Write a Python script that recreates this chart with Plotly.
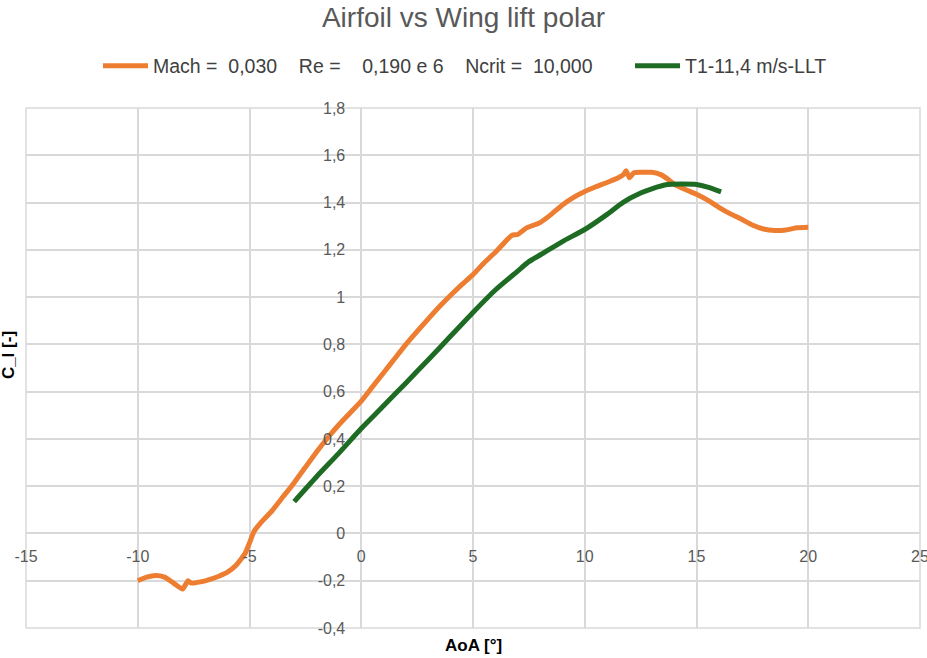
import plotly.graph_objects as go

# Airfoil polar (XFOIL): Mach 0.030, Re 0.190e6, Ncrit 10
aoa_airfoil = [-10.0, -9.6, -9.2, -8.8, -8.4, -8.0, -7.85, -7.75, -7.6, -7.2, -6.8, -6.4,
               -6.0, -5.6, -5.2, -5.0, -4.8, -4.5, -4.0, -3.5, -3.0, -2.5, -2.0, -1.5,
               -1.0, -0.5, 0.0, 0.5, 1.0, 1.5, 2.0, 2.5, 3.0, 3.5, 4.0, 4.5, 5.0, 5.5,
               6.0, 6.5, 6.75, 7.0, 7.4, 7.8, 8.0, 8.5, 9.0, 9.5, 10.0, 10.5, 11.0,
               11.5, 11.75, 11.85, 12.0, 12.2, 12.5, 13.0, 13.4, 13.7, 14.0, 14.5,
               15.0, 15.5, 16.0, 16.5, 17.0, 17.5, 18.0, 18.5, 19.0, 19.5, 20.0]
cl_airfoil = [-0.200, -0.185, -0.178, -0.185, -0.210, -0.235, -0.215, -0.200, -0.210,
              -0.205, -0.195, -0.182, -0.165, -0.135, -0.085, -0.040, 0.008, 0.045,
              0.095, 0.155, 0.215, 0.280, 0.345, 0.405, 0.460, 0.510, 0.560, 0.620,
              0.680, 0.740, 0.800, 0.855, 0.908, 0.960, 1.008, 1.053, 1.095, 1.145,
              1.190, 1.240, 1.262, 1.265, 1.293, 1.307, 1.315, 1.350, 1.390, 1.422,
              1.447, 1.467, 1.485, 1.505, 1.520, 1.535, 1.505, 1.526, 1.528, 1.528,
              1.518, 1.500, 1.478, 1.455, 1.435, 1.410, 1.380, 1.353, 1.330, 1.305,
              1.288, 1.282, 1.284, 1.293, 1.295]

# Wing polar (lifting-line theory), T1 at 11.4 m/s
aoa_wing = [-3.0, -2.0, -1.0, 0.0, 1.0, 2.0, 3.0, 4.0, 5.0, 6.0, 7.0, 7.5, 8.0, 9.0,
            10.0, 11.0, 11.7, 12.5, 13.0, 13.7, 14.3, 15.0, 15.5, 16.1]
cl_wing = [0.135, 0.240, 0.340, 0.444, 0.540, 0.637, 0.735, 0.835, 0.935, 1.030,
           1.110, 1.150, 1.178, 1.235, 1.286, 1.350, 1.400, 1.440, 1.458, 1.476,
           1.478, 1.476, 1.465, 1.445]

airfoil_name = "Mach =\u00a0 0,030\u00a0\u00a0\u00a0 Re =\u00a0\u00a0\u00a0 0,190 e 6\u00a0\u00a0\u00a0 Ncrit =\u00a0 10,000"
wing_name = "T1-11,4 m/s-LLT"

x_tick_vals = [-15, -10, -5, 0, 5, 10, 15, 20, 25]
x_tick_text = ["-15", "-10", "-5", "0", "5", "10", "15", "20", "25"]
y_tick_vals = [-0.4, -0.2, 0, 0.2, 0.4, 0.6, 0.8, 1.0, 1.2, 1.4, 1.6, 1.8]
y_tick_text = ["-0,4", "-0,2", "0", "0,2", "0,4", "0,6", "0,8", "1", "1,2", "1,4", "1,6", "1,8"]

x_range = [-15, 25]
y_range = [-0.4, 1.8]

ORANGE = "#ED7D31"
GREEN = "#1E6B24"
GRID = "#d9d9d9"
TEXT = "#595959"
FONT = "Liberation Sans, Arial, sans-serif"
W, H = 927, 658

fig = go.Figure()
fig.add_trace(go.Scatter(x=aoa_airfoil, y=cl_airfoil, mode="lines", name=airfoil_name,
                         legend="legend",
                         line=dict(color=ORANGE, width=5, shape="spline", smoothing=0.5)))
fig.add_trace(go.Scatter(x=aoa_wing, y=cl_wing, mode="lines", name=wing_name,
                         legend="legend2",
                         line=dict(color=GREEN, width=5, shape="spline", smoothing=0.6)))

# axes cross at the origin, as in the spreadsheet chart
x_cross = (0 - y_range[0]) / (y_range[1] - y_range[0])
y_cross = (0 - x_range[0]) / (x_range[1] - x_range[0])

legend_style = dict(orientation="h", xref="container", xanchor="left",
                    y=1 - 66 / H, yref="container", yanchor="middle",
                    font=dict(family=FONT, size=19.5, color="#404040"),
                    itemwidth=45, bgcolor="rgba(0,0,0,0)")

fig.update_layout(
    width=W, height=H,
    margin=dict(l=26, r=7, t=108, b=30),
    paper_bgcolor="white", plot_bgcolor="white",
    font=dict(family=FONT, color=TEXT, size=16),
    title=dict(text="Airfoil vs Wing lift polar", x=0.5, xref="container", xanchor="center",
               y=1 - 17 / H, yref="container", yanchor="middle",
               font=dict(family=FONT, size=28, color=TEXT)),
    legend=dict(x=98 / W, **legend_style),
    legend2=dict(x=630 / W, **legend_style),
    showlegend=True,
    xaxis=dict(range=x_range, tickmode="array", tickvals=x_tick_vals, ticktext=x_tick_text,
               anchor="free", position=x_cross, showline=False, zeroline=False,
               showgrid=True, gridcolor=GRID, gridwidth=1.5, ticks="",
               ticklabelstandoff=12, ticklabeloverflow="allow", automargin=False,
               tickfont=dict(size=16, color=TEXT), fixedrange=True),
    yaxis=dict(range=y_range, tickmode="array", tickvals=y_tick_vals, ticktext=y_tick_text,
               anchor="free", position=y_cross, showline=False, zeroline=False,
               showgrid=True, gridcolor=GRID, gridwidth=1.5, ticks="",
               ticklabelstandoff=16, ticklabeloverflow="allow", automargin=False,
               tickfont=dict(size=16, color=TEXT), fixedrange=True),
    shapes=[dict(type="rect", xref="paper", yref="paper", x0=0, x1=1, y0=0, y1=1,
                 line=dict(color=GRID, width=1.5), layer="below")],
    annotations=[
        dict(text="<b>AoA [°]</b>", xref="paper", yref="paper", x=0.501, y=0,
             xanchor="center", yanchor="middle", yshift=-17, showarrow=False,
             font=dict(family=FONT, size=17, color="#000000")),
        dict(text="<b>C_l [-]</b>", xref="paper", yref="paper", x=-0.02, y=0.525,
             xanchor="center", yanchor="middle", textangle=-90, showarrow=False,
             font=dict(family=FONT, size=17, color="#000000")),
    ],
)

fig.write_html("out.html")
